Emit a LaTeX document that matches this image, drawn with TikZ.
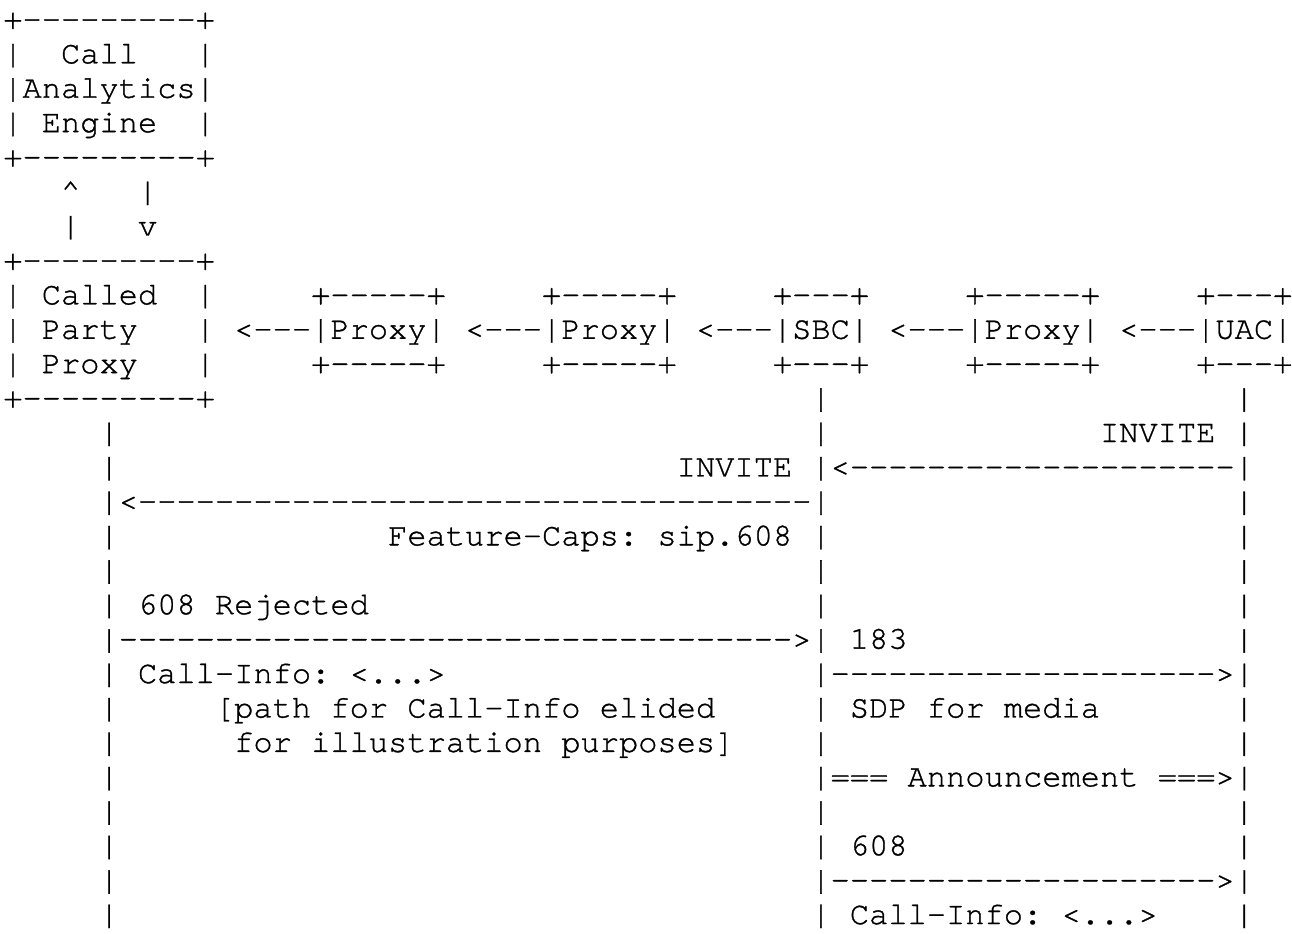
\documentclass[tikz,border=0pt]{standalone}
\usepackage{fontspec}
\setmonofont{texgyrecursor-regular.otf}[FakeBold=1]
\newcommand{\tx}[4]{\node[asc] (#1) at ({3.3+#2*19.24},{905.1-#3*34.43}) {#4};}
\begin{document}
\begin{tikzpicture}[x=1bp,y=1bp,
  asc/.style={inner sep=0pt,outer sep=0pt,anchor=base west,text=black,
    font=\fontsize{32.07bp}{34.43bp}\selectfont\ttfamily}]
\fill[white] (0,0) rectangle (1292,934);
\useasboundingbox (0,0) rectangle (1292,934);
% Call Analytics Engine box
\tx{r0}{0}{0}{+---------+}
\tx{r1a}{0}{1}{|}\tx{r1t}{3}{1}{Call}\tx{r1b}{10}{1}{|}
\tx{r2}{0}{2}{|Analytics|}
\tx{r3a}{0}{3}{|}\tx{r3t}{2}{3}{Engine}\tx{r3b}{10}{3}{|}
\tx{r4}{0}{4}{+---------+}
\tx{r5a}{3}{5}{\textasciicircum}\tx{r5b}{7}{5}{|}
\tx{r6a}{3}{6}{|}\tx{r6b}{7}{6}{v}
% Called Party Proxy and chain
\tx{r7}{0}{7}{+---------+}
\tx{r8a}{0}{8}{|}\tx{r8t}{2}{8}{Called}\tx{r8b}{10}{8}{|}
\tx{r8c}{16}{8}{+-----+}\tx{r8d}{28}{8}{+-----+}\tx{r8e}{40}{8}{+---+}\tx{r8f}{50}{8}{+-----+}\tx{r8g}{62}{8}{+---+}
\tx{r9a}{0}{9}{|}\tx{r9t}{2}{9}{Party}\tx{r9b}{10}{9}{|}
\tx{r9c}{12}{9}{<---|Proxy|}\tx{r9d}{24}{9}{<---|Proxy|}\tx{r9e}{36}{9}{<---|SBC|}\tx{r9f}{46}{9}{<---|Proxy|}\tx{r9g}{58}{9}{<---|UAC|}
\tx{r10a}{0}{10}{|}\tx{r10t}{2}{10}{Proxy}\tx{r10b}{10}{10}{|}
\tx{r10c}{16}{10}{+-----+}\tx{r10d}{28}{10}{+-----+}\tx{r10e}{40}{10}{+---+}\tx{r10f}{50}{10}{+-----+}\tx{r10g}{62}{10}{+---+}
\tx{r11}{0}{11}{+---------+}\tx{r11b}{42}{11}{|}\tx{r11c}{64}{11}{|}
% message flow
\tx{r12a}{5}{12}{|}\tx{r12b}{42}{12}{|}\tx{r12t}{57}{12}{INVITE}\tx{r12c}{64}{12}{|}
\tx{r13a}{5}{13}{|}\tx{r13t}{35}{13}{INVITE}\tx{r13b}{42}{13}{|<--------------------|}
\tx{r14a}{5}{14}{|<-----------------------------------|}\tx{r14c}{64}{14}{|}
\tx{r15a}{5}{15}{|}\tx{r15t}{20}{15}{Feature-Caps: sip.608}\tx{r15b}{42}{15}{|}\tx{r15c}{64}{15}{|}
\tx{r16a}{5}{16}{|}\tx{r16b}{42}{16}{|}\tx{r16c}{64}{16}{|}
\tx{r17a}{5}{17}{|}\tx{r17t}{7}{17}{608 Rejected}\tx{r17b}{42}{17}{|}\tx{r17c}{64}{17}{|}
\tx{r18a}{5}{18}{|----------------------------------->|}\tx{r18t}{44}{18}{183}\tx{r18c}{64}{18}{|}
\tx{r19a}{5}{19}{|}\tx{r19t}{7}{19}{Call-Info: <...>}\tx{r19b}{42}{19}{|-------------------->|}
\tx{r20a}{5}{20}{|}\tx{r20t}{11}{20}{[path for Call-Info elided}\tx{r20b}{42}{20}{|}\tx{r20u}{44}{20}{SDP for media}\tx{r20c}{64}{20}{|}
\tx{r21a}{5}{21}{|}\tx{r21t}{12}{21}{for illustration purposes]}\tx{r21b}{42}{21}{|}\tx{r21c}{64}{21}{|}
\tx{r22a}{5}{22}{|}\tx{r22b}{42}{22}{|=== Announcement ===>|}
\tx{r23a}{5}{23}{|}\tx{r23b}{42}{23}{|}\tx{r23c}{64}{23}{|}
\tx{r24a}{5}{24}{|}\tx{r24b}{42}{24}{|}\tx{r24t}{44}{24}{608}\tx{r24c}{64}{24}{|}
\tx{r25a}{5}{25}{|}\tx{r25b}{42}{25}{|-------------------->|}
\tx{r26a}{5}{26}{|}\tx{r26b}{42}{26}{|}\tx{r26t}{44}{26}{Call-Info: <...>}\tx{r26c}{64}{26}{|}
\end{tikzpicture}
\end{document}
